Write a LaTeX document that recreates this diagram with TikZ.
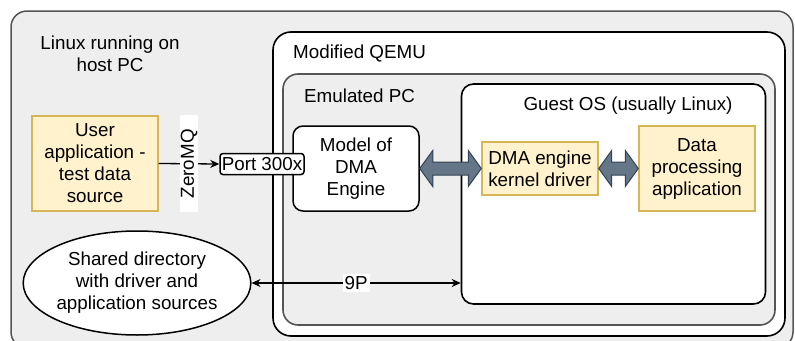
\documentclass[tikz,border=0pt]{standalone}
\usepackage{fontspec}
\setmainfont{Liberation Sans}
\usetikzlibrary{arrows.meta,calc,shapes.geometric}
\definecolor{bgray}{HTML}{EEEEEE}
\definecolor{sgray}{HTML}{555555}
\definecolor{yfill}{HTML}{FFF2CC}
\definecolor{ystroke}{HTML}{D6B656}
\definecolor{afill}{HTML}{647687}
\definecolor{astroke}{HTML}{314354}
\tikzset{
  lbl/.style={font=\fontsize{18.8}{22}\selectfont, align=center, inner sep=0pt},
  region/.style={draw, line width=1.6pt},
  ybox/.style={draw=ystroke, fill=yfill, line width=1.4pt},
  fatarrow/.style={draw=astroke, fill=afill, line width=1pt, line join=miter},
  conn/.style={line width=1.3pt, -{Stealth[length=9pt,width=8pt]}},
}
\newcommand\fatarr[2]{%
  \path[fatarrow] let \p1=(#1), \p2=(#2) in
    (\x1,\y1) -- (\x1+13pt,\y1+18pt) -- (\x1+13pt,\y1+6.5pt) -- (\x2-13pt,\y1+6.5pt)
    -- (\x2-13pt,\y1+18pt) -- (\x2,\y1) -- (\x2-13pt,\y1-18pt) -- (\x2-13pt,\y1-6.5pt)
    -- (\x1+13pt,\y1-6.5pt) -- (\x1+13pt,\y1-18pt) -- cycle;}
\begin{document}
\begin{tikzpicture}[x=1pt,y=-1pt]
\useasboundingbox (0,0) rectangle (795,340);
\clip (0,0) rectangle (795,340);
% outer host
\draw[fill=bgray, draw=sgray, line width=1.5pt, rounded corners=16pt] (11,11) rectangle (793,348);
\node[lbl] (host) at (110,54) {Linux running on\\host PC};
% QEMU
\draw[region, fill=white, rounded corners=18pt] (273,32) rectangle (785,336);
\node[lbl, anchor=west] (qemu) at (293,53) {Modified QEMU};
% Emulated PC
\draw[fill=bgray, draw=sgray, line width=1.6pt, rounded corners=15pt] (283,74) rectangle (775,325);
\node[lbl, anchor=west] (epc) at (304,96) {Emulated PC};
% Guest OS
\node[region, fill=white, rounded corners=12pt, minimum width=304pt, minimum height=220pt, inner sep=0pt] (guest) at (613.5,194) {};
\node[lbl] (guestlbl) at (628,106) {Guest OS (usually Linux)};
% boxes
\node[ybox, lbl, minimum width=126pt, minimum height=95pt] (user) at (95,163.5) {User\\application -\\test data\\source};
\node[draw, fill=white, line width=1.5pt, rounded corners=10pt, lbl, minimum width=126pt, minimum height=85pt] (model) at (356,168.5) {Model of\\DMA\\Engine};
\node[ybox, lbl, minimum width=116pt, minimum height=53pt] (drv) at (540,168.5) {DMA engine\\kernel driver};
\node[ybox, lbl, minimum width=116pt, minimum height=85pt] (dpa) at (697,168.5) {Data\\processing\\application};
\node[draw, fill=white, line width=1.5pt, rounded corners=3pt, lbl, minimum width=84pt, minimum height=21pt, inner xsep=1pt] (port) at (262,164) {Port 300x};
\node[draw, fill=white, line width=1.5pt, ellipse, lbl, minimum width=210pt, minimum height=104pt] (shared) at (137,283) {Shared directory\\with driver and\\application sources};
% connectors
\draw[conn] (user.east) -- (port.west) node[midway, lbl, fill=white, rotate=90, inner xsep=14pt, inner ysep=1pt] (zmq) {ZeroMQ};
\draw[conn, {Stealth[length=9pt,width=8pt]}-{Stealth[length=9pt,width=8pt]}] (shared.east) -- (guest.west |- shared.east) node[pos=0.5, lbl, fill=white, inner xsep=2pt, inner ysep=2pt] (ninep) {9P};
\fatarr{model.east}{drv.west}
\fatarr{drv.east}{dpa.west}
\end{tikzpicture}
\end{document}
